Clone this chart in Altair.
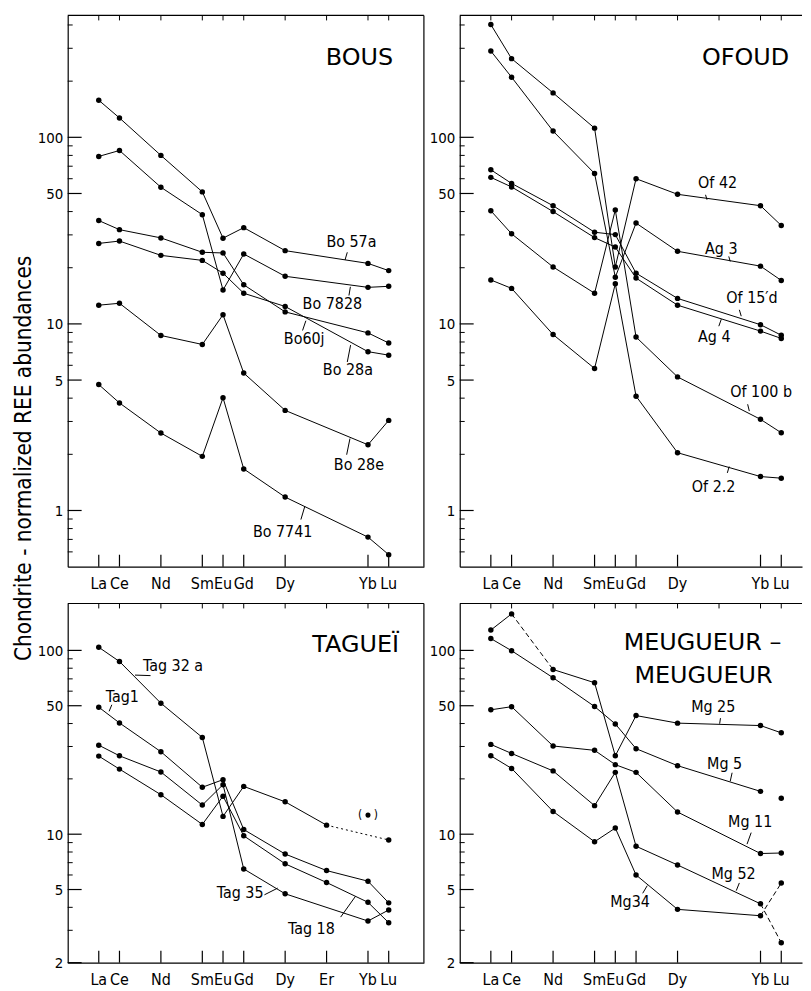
import altair as alt
import pandas as pd

# ---------------- data ----------------
ELEMENTS = ["La", "Ce", "Nd", "Sm", "Eu", "Gd", "Dy", "Er", "Yb", "Lu"]
ATOMIC_NUMBERS = [57, 58, 60, 62, 63, 64, 66, 68, 70, 71]
REE9 = ["La", "Ce", "Nd", "Sm", "Eu", "Gd", "Dy", "Yb", "Lu"]
REE10 = ELEMENTS

# BOUS
BO_57A = [158, 127, 80, 51, 28.8, 32.8, 24.7, 21.1, 19.3]
BO_7828 = [79, 85, 54, 38.5, 15.2, 23.7, 18.0, 15.7, 15.9]
BO_60J = [35.8, 32, 28.9, 24.2, 24.0, 16.2, 11.6, 8.95, 7.9]
BO_28A = [27, 27.8, 23.3, 21.9, 18.7, 14.6, 12.4, 7.1, 6.8]
BO_28E = [12.6, 12.9, 8.67, 7.76, 11.2, 5.45, 3.44, 2.25, 3.04]
BO_7741 = [4.73, 3.77, 2.60, 1.95, 4.02, 1.67, 1.18, 0.72, 0.58]

# OFOUD
OF_42 = [402, 264, 173, 112, 20.2, 60, 49.5, 43, 33.7]
AG_3 = [290, 210, 108, 64, 17.8, 34.7, 24.5, 20.4, 17.1]
OF_15D = [67, 56.6, 43, 31, 30.1, 18.7, 13.7, 9.9, 8.7]
AG_4 = [61, 54.2, 40, 29, 25.8, 17.6, 12.6, 9.15, 8.36]
OF_100B = [40.4, 30.4, 20.2, 14.6, 40.8, 8.5, 5.2, 3.08, 2.61]
OF_2_2 = [17.2, 15.5, 8.77, 5.77, 16.4, 4.1, 2.04, 1.52, 1.49]

# TAGUEI (REE10, None = not plotted on the line)
TAG_32A = [104, 87, 51.6, 33.6, 12.5, 18.2, 15.0, 11.2, None, 9.3]
TAG_32A_YB_UNCERTAIN = 12.7
TAG_1 = [49.1, 40.3, 28.1, 18.0, 19.8, 10.6, 7.8, 6.34, 5.55, 4.23]
TAG_35 = [30.5, 26.7, 21.8, 14.4, 18.6, 6.47, 4.74, None, 3.37, 3.87]
TAG_18 = [26.6, 22.6, 16.4, 11.3, 16.1, 9.8, 6.9, 5.46, 4.26, 3.3]

# MEUGUEUR - MEUGUEUR
MG_25 = [129, 158, 78.7, 66.7, 26.7, 44.2, 40.2, 39, 35.6]
MG_5 = [116, 99.6, 71, 49.5, 39.8, 29.2, 23.6, 17.1, 15.7]
MG_11 = [47.5, 49.4, 30.2, 28.6, 23.9, 21.7, 13.2, 7.85, 7.9]
MG_52 = [30.8, 27.5, 22.1, 14.3, 21.7, 8.6, 6.8, 4.18, 2.57]
MG_34 = [26.7, 22.8, 13.3, 9.1, 10.8, 6.0, 3.9, 3.6, 5.42]

# sample labels: (text, atomic-number position, abundance)
BOUS_LABELS = [("Bo 57a", 69.2, 27.5), ("Bo 7828", 68.28, 12.8), ("Bo60j", 66.92, 8.26),
               ("Bo 28a", 69.03, 5.64), ("Bo 28e", 69.56, 1.76), ("Bo 7741", 65.88, 0.768)]
BOUS_LEADERS = [(68.89, 22.0, 69.0, 24.2), (69.08, 14.2, 69.15, 15.8), (66.84, 9.22, 67.0, 10.4),
                (69.0, 6.25, 69.16, 7.7), (68.97, 1.99, 69.13, 2.43), (66.76, 0.894, 66.95, 1.053)]
OFOUD_LABELS = [("Of 42", 67.93, 56.8), ("Ag 3", 68.11, 25.3), ("Of 15\u2032d", 69.59, 13.7),
                ("Ag 4", 67.77, 8.51), ("Of 100 b", 70.03, 4.33), ("Of 2.2", 67.74, 1.34)]
OFOUD_LEADERS = [(67.35, 49.2, 67.42, 46.3), (68.47, 23.0, 68.54, 21.6), (68.98, 11.9, 69.07, 11.0),
                 (67.99, 9.72, 68.11, 10.6), (69.38, 3.71, 69.46, 3.41), (68.40, 1.59, 68.49, 1.72)]
TAG_LABELS = [("Tag 32 a", 60.59, 82.6), ("Tag1", 58.14, 55.7), ("Tag 35", 63.83, 4.79),
              ("Tag 18", 67.27, 3.04)]
TAG_LEADERS = [(58.75, 73.4, 59.5, 72.9), (57.63, 50.6, 57.5, 46.6), (65.0, 4.68, 65.64, 5.09),
               (68.68, 3.54, 69.4, 4.6)]
MG_LABELS = [("Mg 25", 67.72, 49.5), ("Mg 5", 68.27, 24.2), ("Mg 11", 69.5, 11.6),
             ("Mg 52", 68.7, 6.07), ("Mg34", 63.71, 4.26)]
MG_LEADERS = [(68.07, 42.8, 68.03, 39.9), (68.63, 21.6, 68.54, 19.4), (69.55, 10.2, 69.35, 8.83),
              (68.98, 5.43, 68.83, 4.93), (64.32, 4.77, 64.54, 5.25)]

Y_MAJOR_TOP = [1, 5, 10, 50, 100]
Y_MINOR_TOP = [0.6, 0.7, 0.8, 0.9, 2, 3, 4, 6, 7, 8, 9, 20, 30, 40, 60, 70, 80, 90, 200, 300, 400]
Y_MAJOR_BOT = [2, 5, 10, 50, 100]
Y_MINOR_BOT = [3, 4, 6, 7, 8, 9, 20, 30, 40, 60, 70, 80, 90]

# ---------------- helpers ----------------
Z = dict(zip(ELEMENTS, ATOMIC_NUMBERS))
NARROW = "DejaVu Sans Condensed, DejaVu Sans"
WIDE = "DejaVu Sans"


def build(series):
    pts, segs = [], []
    for s in series:
        es, vs, styles = s["elems"], s["vals"], s.get("styles", {})
        for e, v in zip(es, vs):
            if v is not None:
                pts.append(dict(sample=s["name"], z=Z[e], v=v))
        idx = [i for i, v in enumerate(vs) if v is not None]
        for a, b in zip(idx, idx[1:]):
            st = styles.get(es[a], "solid")
            if st == "none":
                continue
            sid = f"{s['name']}-{a}"
            segs.append(dict(seg=sid, style=st, z=Z[es[a]], v=vs[a]))
            segs.append(dict(seg=sid, style=st, z=Z[es[b]], v=vs[b]))
    return pd.DataFrame(pts), pd.DataFrame(segs)


def make_panel(series, labels, leaders, titles, W, H, xdom, ydom, ymaj, ymin,
               xlab, xtop, right_border, extra=None):
    xs = alt.Scale(domain=xdom, nice=False, zero=False)
    ys = alt.Scale(type="log", domain=ydom, nice=False)
    X = lambda f: alt.X(f, scale=xs)
    Y = lambda f: alt.Y(f, scale=ys)
    pts, segs = build(series)
    xaxis = alt.Axis(values=[Z[e] for e in xlab], labels=False, ticks=False, grid=False,
                     domain=True, domainColor="black", domainWidth=1.2, title=None)
    yaxis = alt.Axis(values=ymaj, format="~g", ticks=False, grid=False, domain=True,
                     domainColor="black", domainWidth=1.2, labelFont=NARROW, labelFontSize=15,
                     labelColor="black", labelPadding=5, labelOverlap=False, labelFlush=False,
                     title=None)
    layers = [alt.Chart(pts).mark_circle(size=30, color="black", opacity=1).encode(
        x=alt.X("z:Q", scale=xs, axis=xaxis), y=alt.Y("v:Q", scale=ys, axis=yaxis))]
    for style, dash in [("solid", None), ("dash", [5, 3]), ("dot", [2, 3])]:
        d = segs[segs["style"] == style]
        if len(d) == 0:
            continue
        kw = dict(color="black", strokeWidth=1)
        if dash:
            kw["strokeDash"] = dash
        layers.append(alt.Chart(d).mark_line(**kw).encode(
            x=X("z:Q"), y=Y("v:Q"), detail="seg:N", order="z:Q"))
    # element names under the x axis
    xl = pd.DataFrame({"el": xlab, "z": [Z[e] for e in xlab]})
    layers.append(alt.Chart(xl).mark_text(font=NARROW, fontSize=16, color="black",
                                          baseline="top", align="center").encode(
        x=X("z:Q"), y=alt.value(H + 9), text="el:N"))
    # inward ticks
    layers.append(alt.Chart(pd.DataFrame({"v": ymaj})).mark_rule(color="black", strokeWidth=1.2).encode(
        y=Y("v:Q"), x=alt.value(0), x2=alt.value(14)))
    layers.append(alt.Chart(pd.DataFrame({"v": ymin})).mark_rule(color="black", strokeWidth=1).encode(
        y=Y("v:Q"), x=alt.value(0), x2=alt.value(5)))
    layers.append(alt.Chart(xl).mark_rule(color="black", strokeWidth=1.2).encode(
        x=X("z:Q"), y=alt.value(H), y2=alt.value(H - 12)))
    layers.append(alt.Chart(pd.DataFrame({"z": [Z[e] for e in xtop]})).mark_rule(color="black", strokeWidth=1).encode(
        x=X("z:Q"), y=alt.value(0), y2=alt.value(5)))
    # frame
    layers.append(alt.Chart(pd.DataFrame({"a": [0]})).mark_rule(color="black", strokeWidth=1.2).encode(
        x=alt.value(0), x2=alt.value(W), y=alt.value(0)))
    if right_border:
        layers.append(alt.Chart(pd.DataFrame({"a": [0]})).mark_rule(color="black", strokeWidth=1.2).encode(
            x=alt.value(W), y=alt.value(0), y2=alt.value(H)))
    # labels and leaders
    ldf = pd.DataFrame(labels, columns=["text", "z", "v"])
    layers.append(alt.Chart(ldf).mark_text(font=NARROW, fontSize=16, color="black").encode(
        x=X("z:Q"), y=Y("v:Q"), text="text:N"))
    rdf = pd.DataFrame(leaders, columns=["z1", "v1", "z2", "v2"])
    layers.append(alt.Chart(rdf).mark_rule(color="black", strokeWidth=1).encode(
        x=X("z1:Q"), y=Y("v1:Q"), x2="z2:Q", y2="v2:Q"))
    for text, tx, ty, align in titles:
        layers.append(alt.Chart(pd.DataFrame({"t": [text]})).mark_text(
            font=WIDE, fontSize=24, color="black", align=align, baseline="alphabetic").encode(
            text="t:N", x=alt.value(tx), y=alt.value(ty)))
    if extra is not None:
        layers.extend(extra(X, Y))
    return alt.layer(*layers).properties(width=W, height=H)


def tag_extra(X, Y):
    d = pd.DataFrame({"z": [Z["Yb"]], "v": [TAG_32A_YB_UNCERTAIN]})
    out = [alt.Chart(d).mark_circle(size=26, color="black", opacity=1).encode(x=X("z:Q"), y=Y("v:Q"))]
    for txt, dx in [("(", -8), (")", 8)]:
        out.append(alt.Chart(d).mark_text(font=NARROW, fontSize=12, color="black", dx=dx).encode(
            x=X("z:Q"), y=Y("v:Q"), text=alt.value(txt)))
    return out


WL, WR, HT, HB = 358, 344, 554, 361
XDOM_L = [55.5, 72.7]
XDOM_R = [55.5, 72.0]
YDOM_T = [0.5, 450]
YDOM_B = [2, 180]

bous = make_panel(
    [dict(name="Bo 57a", elems=REE9, vals=BO_57A), dict(name="Bo 7828", elems=REE9, vals=BO_7828),
     dict(name="Bo60j", elems=REE9, vals=BO_60J), dict(name="Bo 28a", elems=REE9, vals=BO_28A),
     dict(name="Bo 28e", elems=REE9, vals=BO_28E), dict(name="Bo 7741", elems=REE9, vals=BO_7741)],
    BOUS_LABELS, BOUS_LEADERS, [("BOUS", WL - 31, 50, "right")],
    WL, HT, XDOM_L, YDOM_T, Y_MAJOR_TOP, Y_MINOR_TOP, REE9, REE10, True)

ofoud = make_panel(
    [dict(name="Of 42", elems=REE9, vals=OF_42), dict(name="Ag 3", elems=REE9, vals=AG_3),
     dict(name="Of 15'd", elems=REE9, vals=OF_15D), dict(name="Ag 4", elems=REE9, vals=AG_4),
     dict(name="Of 100b", elems=REE9, vals=OF_100B), dict(name="Of 2.2", elems=REE9, vals=OF_2_2)],
    OFOUD_LABELS, OFOUD_LEADERS, [("OFOUD", 331, 50, "right")],
    WR, HT, XDOM_R, YDOM_T, Y_MAJOR_TOP, Y_MINOR_TOP, REE9, REE10, False)

tag = make_panel(
    [dict(name="Tag 32a", elems=REE10, vals=TAG_32A, styles={"Er": "dot"}),
     dict(name="Tag1", elems=REE10, vals=TAG_1), dict(name="Tag 35", elems=REE10, vals=TAG_35),
     dict(name="Tag 18", elems=REE10, vals=TAG_18)],
    TAG_LABELS, TAG_LEADERS, [("TAGUE\u00cf", 333, 49, "right")],
    WL, HB, XDOM_L, YDOM_B, Y_MAJOR_BOT, Y_MINOR_BOT, REE10, REE10, True, extra=tag_extra)

meu = make_panel(
    [dict(name="Mg 25", elems=REE9, vals=MG_25, styles={"Ce": "dash"}),
     dict(name="Mg 5", elems=REE9, vals=MG_5, styles={"Yb": "none"}),
     dict(name="Mg 11", elems=REE9, vals=MG_11),
     dict(name="Mg 52", elems=REE9, vals=MG_52, styles={"Yb": "dash"}),
     dict(name="Mg34", elems=REE9, vals=MG_34, styles={"Yb": "dash"})],
    MG_LABELS, MG_LEADERS, [("MEUGUEUR \u2013", 244, 47, "center"), ("MEUGUEUR", 245, 80, "center")],
    WR, HB, XDOM_R, YDOM_B, Y_MAJOR_BOT, Y_MINOR_BOT, REE9, REE10, False)

chart = alt.concat(
    bous, ofoud, tag, meu, columns=2,
    spacing=alt.RowColnumber(row=37, column=36), bounds="flush",
).properties(
    title=alt.TitleParams("Chondrite - normalized REE abundances", orient="left", anchor="middle",
                          font=NARROW, fontSize=22.5, fontWeight="normal", color="black",
                          offset=2, dx=43),
    padding={"left": 4, "top": 4, "right": 0, "bottom": 0},
).configure_view(stroke=None).configure_axis(labelOverlap=False, labelBound=False)

chart.save("out.html", embed_options={"renderer": "svg", "actions": False})
